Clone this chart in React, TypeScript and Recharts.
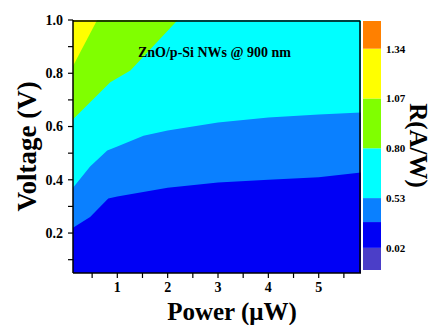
import React from "react";
import {
  ComposedChart,
  Area,
  XAxis,
  YAxis,
  ReferenceDot,
  BarChart,
  Bar,
} from "recharts";

// ---- axis ranges & ticks ----
const powerDomain = [0.12, 5.84];
const voltageDomain = [0.05, 1.0];
const powerTicks = [0.5, 1, 1.5, 2, 2.5, 3, 3.5, 4, 4.5, 5, 5.5];
const powerTickLabels = ["", "1", "", "2", "", "3", "", "4", "", "5", ""];
const voltageTicks = [0.1, 0.2, 0.3, 0.4, 0.5, 0.6, 0.7, 0.8, 0.9, 1.0];
const voltageTickLabels = ["", "0.2", "", "0.4", "", "0.6", "", "0.8", "", "1.0"];

// ---- contour level boundaries (upper edge of each filled band) ----
const yellowP = [0.12, 5.84];
const yellowV = [1.0, 1.0];
const greenP = [0.12, 0.6, 5.84];
const greenV = [0.827, 1.0, 1.0];
const cyanP = [0.12, 0.86, 1.26, 2.2, 5.84];
const cyanV = [0.627, 0.766, 0.81, 1.0, 1.0];
const midBlueP = [0.12, 0.46, 0.8, 1.0, 1.52, 2.0, 3.0, 4.0, 5.0, 5.84];
const midBlueV = [0.37, 0.45, 0.51, 0.525, 0.565, 0.585, 0.615, 0.634, 0.645, 0.653];
const darkBlueP = [0.12, 0.46, 0.82, 1.0, 2.0, 3.0, 4.0, 5.0, 5.84];
const darkBlueV = [0.22, 0.26, 0.33, 0.337, 0.37, 0.39, 0.4, 0.41, 0.427];

// ---- colour bar ----
const cbLevels = [0.14, 0.26, 0.4, 0.53, 0.8, 1.07, 1.34, 1.49];
const cbColors = ["#4b3ec8", "#0000f5", "#0a80ff", "#00ffff", "#80ff00", "#ffff00", "#ff8000"];
const cbTicks = [0.26, 0.53, 0.8, 1.07, 1.34];
const cbTickLabels = ["0.02", "0.53", "0.80", "1.07", "1.34"];

const annotation = "ZnO/p-Si NWs @ 900 nm";

const toPts = (p: number[], v: number[]) => p.map((x, i) => ({ p: x, v: v[i] }));

const bands = [
  { data: toPts(yellowP, yellowV), color: "#ffff00" },
  { data: toPts(greenP, greenV), color: "#80ff00" },
  { data: toPts(cyanP, cyanV), color: "#00ffff" },
  { data: toPts(midBlueP, midBlueV), color: "#0a80ff" },
  { data: toPts(darkBlueP, darkBlueV), color: "#0000f5" },
];
const frameData = toPts(yellowP, yellowV);

const cbRow: Record<string, any> = { name: "cb", base: cbLevels[0] };
cbColors.forEach((_, i) => {
  cbRow["s" + i] = +(cbLevels[i + 1] - cbLevels[i]).toFixed(4);
});
const cbData = [cbRow];

const font = "'Liberation Serif', 'Times New Roman', serif";
const tickStyle = { fontFamily: font, fontWeight: 700, fontSize: 14, fill: "#000" };
const axisLine = { stroke: "#000", strokeWidth: 1.5 };

export default function App() {
  return (
    <div style={{ position: "absolute", left: 0, top: 0, width: 431, height: 325, background: "#fff" }}>
      <div style={{ position: "absolute", left: 0, top: 0 }}>
        <ComposedChart width={431} height={325} margin={{ top: 20, right: 70, left: 0, bottom: 0 }}>
          <XAxis
            xAxisId="top"
            dataKey="p"
            orientation="top"
            type="number"
            domain={powerDomain}
            allowDataOverflow
            height={1}
            hide
          />
          <YAxis
            yAxisId="right"
            dataKey="v"
            orientation="right"
            type="number"
            domain={voltageDomain}
            allowDataOverflow
            width={1}
            hide
          />
          {bands.map((b, i) => (
            <Area
              key={i}
              data={b.data}
              dataKey="v"
              type="linear"
              baseValue="dataMin"
              stroke="none"
              fill={b.color}
              fillOpacity={1}
              isAnimationActive={false}
              dot={false}
              activeDot={false}
            />
          ))}
          <XAxis
            dataKey="p"
            type="number"
            domain={powerDomain}
            allowDataOverflow
            ticks={powerTicks}
            tickFormatter={(v: number) => powerTickLabels[powerTicks.indexOf(v)] ?? ""}
            interval={0}
            height={52}
            tick={tickStyle}
            tickSize={5}
            tickMargin={4}
            axisLine={axisLine}
            tickLine={{ stroke: "#000", strokeWidth: 1.2 }}
            label={{
              value: "Power (μW)",
              position: "insideBottom",
              offset: 5,
              dx: 15,
              style: { fontFamily: font, fontWeight: 700, fontSize: 25, fill: "#000" },
            }}
          />
          <YAxis
            dataKey="v"
            type="number"
            domain={voltageDomain}
            allowDataOverflow
            ticks={voltageTicks}
            tickFormatter={(v: number) => voltageTickLabels[voltageTicks.indexOf(v)] ?? ""}
            interval={0}
            width={73}
            tick={tickStyle}
            tickSize={5}
            tickMargin={5}
            axisLine={axisLine}
            tickLine={{ stroke: "#000", strokeWidth: 1.2 }}
            label={{
              value: "Voltage (V)",
              angle: -90,
              position: "insideLeft",
              offset: 26,
              style: { fontFamily: font, fontWeight: 700, fontSize: 27, fill: "#000", textAnchor: "middle" },
            }}
          />
          <ReferenceDot
            x={2.93}
            y={0.88}
            r={0}
            fill="none"
            stroke="none"
            label={{
              value: annotation,
              position: "center",
              style: { fontFamily: font, fontWeight: 700, fontSize: 14, fill: "#000" },
            }}
          />
        </ComposedChart>
      </div>
      {/* frame overlay: top and right borders of the plot */}
      <div style={{ position: "absolute", left: 0, top: 0, pointerEvents: "none" }}>
        <ComposedChart width={431} height={325} margin={{ top: 20, right: 70, left: 73, bottom: 52 }}>
          <XAxis
            dataKey="p"
            orientation="top"
            type="number"
            domain={powerDomain}
            allowDataOverflow
            height={1}
            tick={false}
            tickLine={false}
            axisLine={axisLine}
          />
          <YAxis
            dataKey="v"
            orientation="right"
            type="number"
            domain={voltageDomain}
            allowDataOverflow
            width={1}
            tick={false}
            tickLine={false}
            axisLine={axisLine}
          />
          <Area
            data={frameData}
            dataKey="v"
            type="linear"
            stroke="none"
            fill="none"
            isAnimationActive={false}
            dot={false}
            activeDot={false}
          />
        </ComposedChart>
      </div>
      <div style={{ position: "absolute", left: 350, top: 0 }}>
        <BarChart
          width={81}
          height={325}
          data={cbData}
          margin={{ top: 21, right: 0, left: 13, bottom: 55 }}
          barCategoryGap={0}
        >
          <XAxis dataKey="name" hide />
          <YAxis
            orientation="right"
            type="number"
            domain={[cbLevels[0], cbLevels[cbLevels.length - 1]]}
            allowDataOverflow
            ticks={cbTicks}
            tickFormatter={(v: number) => cbTickLabels[cbTicks.indexOf(v)] ?? ""}
            interval={0}
            width={50}
            axisLine={false}
            tickLine={false}
            tickSize={0}
            tickMargin={5}
            tick={{ fontFamily: font, fontWeight: 700, fontSize: 11, fill: "#000" }}
            label={{
              value: "R(A/W)",
              angle: 90,
              position: "insideRight",
              offset: 12,
              style: { fontFamily: font, fontWeight: 700, fontSize: 25, fill: "#000", textAnchor: "middle" },
            }}
          />
          <Bar dataKey="base" stackId="cb" fill="none" isAnimationActive={false} />
          {cbColors.map((c, i) => (
            <Bar key={i} dataKey={"s" + i} stackId="cb" fill={c} isAnimationActive={false} />
          ))}
        </BarChart>
      </div>
    </div>
  );
}
